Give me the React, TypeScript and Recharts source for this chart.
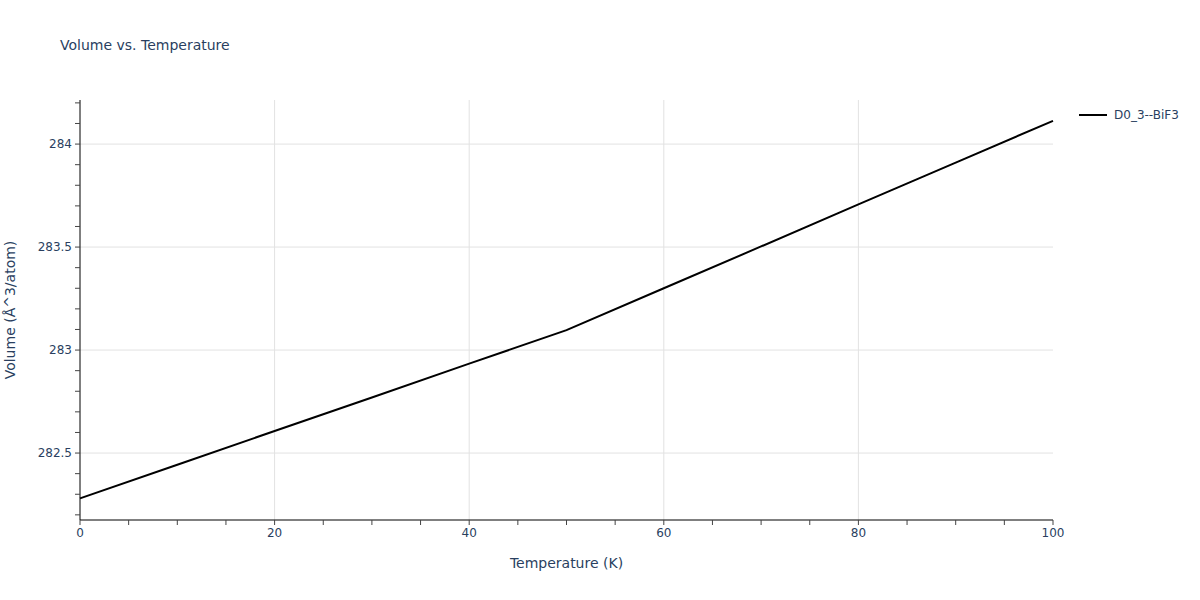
import React from 'react';
import { LineChart, Line, XAxis, YAxis, ReferenceLine, Legend } from 'recharts';

const temperatures = [0, 10, 20, 30, 40, 50, 60, 70, 80, 90, 100];
const volumes = [282.28, 282.443, 282.607, 282.77, 282.934, 283.097, 283.3, 283.503, 283.707, 283.91, 284.113];
const seriesName = 'D0_3--BiF3';

const xTicks = [0, 5, 10, 15, 20, 25, 30, 35, 40, 45, 50, 55, 60, 65, 70, 75, 80, 85, 90, 95, 100];
const xMajor = [0, 20, 40, 60, 80, 100];
const xGrid = [20, 40, 60, 80];
const yTicks = [282.2, 282.3, 282.4, 282.5, 282.6, 282.7, 282.8, 282.9, 283, 283.1, 283.2, 283.3, 283.4, 283.5, 283.6, 283.7, 283.8, 283.9, 284, 284.1, 284.2];
const yMajor = [282.5, 283, 283.5, 284];
const yDomain = [282.175, 284.214];
const xDomain = [0, 100];

const data = temperatures.map((t, i) => ({ t, v: volumes[i] }));

const FONT = '"DejaVu Sans", Verdana, sans-serif';
const TEXT = '#2a3f5f';
const GRID = '#e2e2e2';

const renderLegend = () => (
  <div style={{ display: 'flex', alignItems: 'center', fontFamily: FONT, fontSize: 12, color: TEXT, whiteSpace: 'nowrap', lineHeight: '14px' }}>
    <svg width={28} height={10} style={{ marginRight: 7 }}>
      <line x1={0} y1={5} x2={28} y2={5} stroke="#000" strokeWidth={2} />
    </svg>
    <span>{seriesName}</span>
  </div>
);

export default function App() {
  return (
    <div style={{ position: 'absolute', left: 0, top: 0, width: 1200, height: 600, background: '#fff' }}>
      <div style={{ position: 'absolute', left: 60, top: 37, fontFamily: FONT, fontSize: 14, lineHeight: '16px', color: TEXT, whiteSpace: 'nowrap' }}>
        Volume vs. Temperature
      </div>
      <LineChart width={1200} height={600} data={data} margin={{ top: 100, right: 147, bottom: 20, left: 10 }}>
        {xGrid.map((x) => (
          <ReferenceLine key={'x' + x} x={x} stroke={GRID} strokeWidth={1} />
        ))}
        {yMajor.map((y) => (
          <ReferenceLine key={'y' + y} y={y} stroke={GRID} strokeWidth={1} />
        ))}
        <XAxis
          dataKey="t"
          type="number"
          domain={xDomain}
          ticks={xTicks}
          interval={0}
          height={60}
          stroke="#000"
          tickSize={5}
          tickMargin={3}
          tickLine={{ stroke: '#444' }}
          tick={{ fontFamily: FONT, fontSize: 12, fill: TEXT }}
          tickFormatter={(v) => (xMajor.includes(v) ? String(v) : '')}
          label={{
            content: ({ viewBox }: any) => (
              <text x={viewBox.x + viewBox.width / 2} y={568} textAnchor="middle" fontFamily={FONT} fontSize={14} fill={TEXT}>
                Temperature (K)
              </text>
            ),
          }}
        />
        <YAxis
          type="number"
          domain={yDomain}
          allowDataOverflow
          ticks={yTicks}
          interval={0}
          width={70}
          stroke="#000"
          tickSize={5}
          tickMargin={3}
          tickLine={{ stroke: '#444' }}
          tick={{ fontFamily: FONT, fontSize: 12, fill: TEXT }}
          tickFormatter={(v) => (yMajor.includes(v) ? String(v) : '')}
          label={{
            content: ({ viewBox }: any) => {
              const cy = viewBox.y + viewBox.height / 2;
              return (
                <text x={15} y={cy} textAnchor="middle" transform={`rotate(-90, 15, ${cy})`} fontFamily={FONT} fontSize={14} fill={TEXT}>
                  Volume (Å^3/atom)
                </text>
              );
            },
          }}
        />
        <Legend
          content={renderLegend}
          wrapperStyle={{ position: 'absolute', left: 1079, top: 108, width: 'auto', height: 0, overflow: 'visible' }}
        />
        <Line
          type="linear"
          dataKey="v"
          name={seriesName}
          stroke="#000"
          strokeWidth={2}
          dot={false}
          activeDot={false}
          isAnimationActive={false}
        />
      </LineChart>
    </div>
  );
}
